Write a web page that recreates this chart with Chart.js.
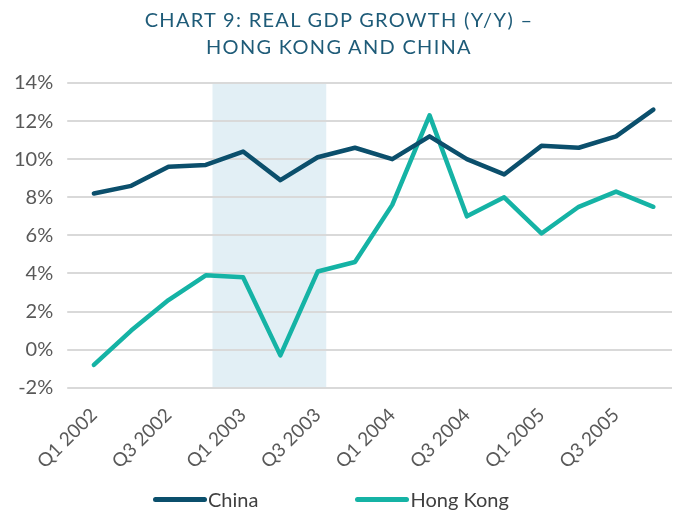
<!DOCTYPE html>
<html lang="en">
<head>
<meta charset="UTF-8">
<title>Chart 9</title>
<script src="https://cdn.jsdelivr.net/npm/chart.js"></script>
<style>
  body { margin: 0; background: #fff; }
  .wrap { position: relative; width: 678px; height: 510px; }
  .titulo {
    position: absolute; top: 6px; left: 0; width: 678px; text-align: center;
    font-family: Lato, sans-serif; font-size: 20px; line-height: 27px;
    letter-spacing: 1.3px; color: #1e5b78;
  }
  .legenda {
    position: absolute; left: 153px; top: 486px; height: 26px;
    display: flex; align-items: center;
    font-family: Lato, sans-serif; font-size: 20px; color: #404040;
  }
  .legenda span.linha { display: inline-block; width: 54px; height: 5px; border-radius: 3px; margin-right: 1px; }
  .legenda .item { display: flex; align-items: center; }
  .legenda .item + .item { margin-left: 97px; }
</style>
</head>
<body>
<div class="wrap">
  <div class="titulo">CHART 9: REAL GDP GROWTH (Y/Y) –<br>HONG KONG AND CHINA</div>
  <canvas id="grafico" width="678" height="510"></canvas>
  <div class="legenda" id="legenda"></div>
</div>
<script>
  const quarters = ['Q1 2002', 'Q2 2002', 'Q3 2002', 'Q4 2002',
                    'Q1 2003', 'Q2 2003', 'Q3 2003', 'Q4 2003',
                    'Q1 2004', 'Q2 2004', 'Q3 2004', 'Q4 2004',
                    'Q1 2005', 'Q2 2005', 'Q3 2005', 'Q4 2005'];
  const china    = [8.2, 8.6, 9.6, 9.7, 10.4, 8.9, 10.1, 10.6, 10.0, 11.2, 10.0, 9.2, 10.7, 10.6, 11.2, 12.6];
  const hongKong = [-0.8, 1.0, 2.6, 3.9, 3.8, -0.3, 4.1, 4.6, 7.6, 12.3, 7.0, 8.0, 6.1, 7.5, 8.3, 7.5];
  const yTicks   = [-2, 0, 2, 4, 6, 8, 10, 12, 14];
  // shaded period, in category units
  const shadeFrom = 3.18;
  const shadeTo = 6.23;

  // background band drawn before gridlines
  const faixa = {
    id: 'faixa',
    beforeDraw(chart) {
      const x = chart.scales.x, area = chart.chartArea, ctx = chart.ctx;
      const step = x.getPixelForValue(1) - x.getPixelForValue(0);
      const x0 = x.getPixelForValue(0) + shadeFrom * step;
      const x1 = x.getPixelForValue(0) + shadeTo * step;
      ctx.save();
      ctx.fillStyle = '#e2eff5';
      ctx.fillRect(x0, area.top, x1 - x0, area.bottom - area.top);
      ctx.restore();
    }
  };

  const config = {
    type: 'line',
    data: {
      labels: quarters,
      datasets: [
        { label: 'China', data: china, borderColor: '#0b4f6c', backgroundColor: '#0b4f6c',
          borderWidth: 4.5, pointRadius: 0, tension: 0, borderCapStyle: 'round', borderJoinStyle: 'round' },
        { label: 'Hong Kong', data: hongKong, borderColor: '#15b3a5', backgroundColor: '#15b3a5',
          borderWidth: 4.5, pointRadius: 0, tension: 0, borderCapStyle: 'round', borderJoinStyle: 'round' }
      ]
    },
    options: {
      responsive: false,
      animation: false,
      layout: { padding: { top: 83, right: 6, left: 0, bottom: 29 } },
      plugins: {
        legend: { display: false },
        tooltip: { enabled: false }
      },
      scales: {
        x: {
          offset: true,
          grid: { display: false },
          border: { display: false },
          ticks: {
            autoSkip: false, maxRotation: 45, minRotation: 45, padding: 8,
            font: { family: 'Lato', size: 19 }, color: '#595959',
            callback: function (v, i) { return i % 2 === 0 ? quarters[i] : ''; }
          }
        },
        y: {
          min: -2, max: 14,
          afterBuildTicks: function (s) { s.ticks = yTicks.map(v => ({ value: v })); },
          grid: { color: '#d9d9d9', lineWidth: 2 },
          border: { display: false },
          ticks: {
            padding: 14,
            font: { family: 'Lato', size: 20 }, color: '#595959',
            callback: function (v) { return v + '%'; }
          }
        }
      }
    },
    plugins: [faixa]
  };

  let grafico = new Chart(document.getElementById('grafico'), config);

  // legenda em HTML
  let legenda = document.getElementById('legenda');
  config.data.datasets.forEach(function (ds) {
    legenda.innerHTML += '<div class="item"><span class="linha" style="background:' + ds.borderColor +
      '"></span>' + ds.label + '</div>';
  });
</script>
</body>
</html>
